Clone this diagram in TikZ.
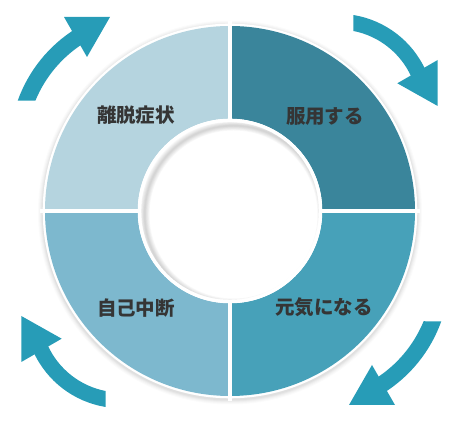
\documentclass[tikz,border=0pt]{standalone}
\usepackage{fontspec}
\newfontfamily\jp{Noto Sans CJK JP}
\definecolor{secA}{HTML}{B5D4DF}
\definecolor{secB}{HTML}{3A859B}
\definecolor{secC}{HTML}{47A1B9}
\definecolor{secD}{HTML}{7DB8CE}
\definecolor{arrcol}{HTML}{279CB7}
\definecolor{txt}{HTML}{353535}
\tikzset{
  lbl/.style={font=\jp\bfseries\fontsize{19.5}{22}\selectfont, text=txt, inner sep=0pt},
  arr/.style={fill=arrcol, draw=none},
}
\begin{document}
\begin{tikzpicture}[x=1pt,y=1pt]
\useasboundingbox (0,0) rectangle (459,422);
\coordinate (C) at (230,211);
% outer drop shadow
\foreach \r/\o in {192/0.015,191/0.02,190/0.025,189/0.03,188/0.035}
  \fill[black,opacity=\o] (230,209.5) circle (\r);
\fill[white] (C) circle (187.3);
% sectors
\fill[secA] ([shift={(C)}]90:185) arc[start angle=90,end angle=180,radius=185] -- ([shift={(C)}]180:92.3) arc[start angle=180,end angle=90,radius=92.3] -- cycle;
\fill[secB] ([shift={(C)}]0:185) arc[start angle=0,end angle=90,radius=185] -- ([shift={(C)}]90:92.3) arc[start angle=90,end angle=0,radius=92.3] -- cycle;
\fill[secC] ([shift={(C)}]270:185) arc[start angle=270,end angle=360,radius=185] -- ([shift={(C)}]0:92.3) arc[start angle=360,end angle=270,radius=92.3] -- cycle;
\fill[secD] ([shift={(C)}]180:185) arc[start angle=180,end angle=270,radius=185] -- ([shift={(C)}]270:92.3) arc[start angle=270,end angle=180,radius=92.3] -- cycle;
% separators
\foreach \a in {0,90,180,270}
  \draw[white,line width=4pt] ([shift={(C)}]\a:85) -- ([shift={(C)}]\a:190);
% inner hole with white rim and inner shadow
\fill[white] (C) circle (92.3);
\begin{scope}
  \clip (C) circle (88.8);
  \foreach \k in {1,...,6}
    \draw[black,opacity=0.028,line width=1.6*\k pt] (233.5,207.5) circle (88.8);
\end{scope}
% labels
\node[lbl] (l1) at (136,306.5) {離脱症状};
\node[lbl] (l2) at (325,306) {服用する};
\node[lbl] (l3) at (136,114) {自己中断};
\node[lbl] (l4) at (324,114.5) {元気になる};
% arrows
\begin{scope}
  \fill[arr] ([shift={(150,274)}]122:140.5) arc[start angle=122,end angle=160.3,radius=140.5] -- ([shift={(150,274)}]157.6:124) arc[start angle=157.6,end angle=122,radius=124] -- cycle;
  \fill[arr] (64,405) -- (110,405) -- (87,365) -- cycle;
  \fill[arr] ([shift={(338,312)}]80.8:96.2) arc[start angle=80.8,end angle=24.5,radius=96.2] -- ([shift={(338,312)}]24.5:80.5) arc[start angle=24.5,end angle=79.0,radius=80.5] -- cycle;
  \fill[arr] (397.3,338.7) -- (437.7,362) -- (437.7,316) -- cycle;
\end{scope}
\begin{scope}[rotate around={180:(229.5,211)}]
  \fill[arr] ([shift={(150,274)}]122:140.5) arc[start angle=122,end angle=160.3,radius=140.5] -- ([shift={(150,274)}]157.6:124) arc[start angle=157.6,end angle=122,radius=124] -- cycle;
  \fill[arr] (64,405) -- (110,405) -- (87,365) -- cycle;
  \fill[arr] ([shift={(338,312)}]80.8:96.2) arc[start angle=80.8,end angle=24.5,radius=96.2] -- ([shift={(338,312)}]24.5:80.5) arc[start angle=24.5,end angle=79.0,radius=80.5] -- cycle;
  \fill[arr] (397.3,338.7) -- (437.7,362) -- (437.7,316) -- cycle;
\end{scope}
\end{tikzpicture}
\end{document}
